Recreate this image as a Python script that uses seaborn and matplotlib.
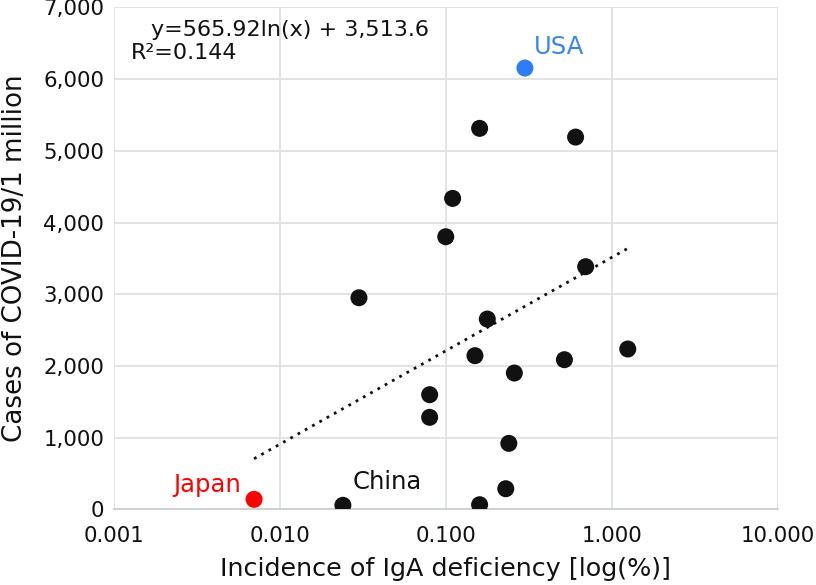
import numpy as np
import pandas as pd
import seaborn as sns
import matplotlib.pyplot as plt
from matplotlib.ticker import FixedLocator, FuncFormatter

# incidence of IgA deficiency (%) vs COVID-19 cases per 1 million
iga_incidence = [0.160, 0.606, 0.110, 0.100, 0.697, 0.030, 0.178, 0.150, 0.519,
                 1.25, 0.259, 0.080, 0.080, 0.240, 0.230, 0.160, 0.024, 0.0070, 0.30]
cases_per_million = [5314, 5192, 4337, 3802, 3384, 2951, 2654, 2143, 2087,
                     2236, 1901, 1599, 1283, 920, 287, 64, 56, 139, 6155]
country = [""] * 16 + ["China", "Japan", "USA"]

# log trendline as given on the chart
fit_a = 565.92
fit_b = 3513.6
fit_r2 = 0.144

df = pd.DataFrame({"x": iga_incidence, "y": cases_per_million, "country": country})
df["group"] = df["country"].map({"Japan": "Japan", "USA": "USA"}).fillna("other")

sns.set_style("white")
plt.rcParams["font.family"] = ["DejaVu Sans"]
plt.rcParams["text.color"] = "#111111"
plt.rcParams["axes.labelcolor"] = "#111111"

fig = plt.figure(figsize=(8.16, 5.85), dpi=100)
ax = fig.add_axes([0.1395, 0.1294, 0.8135, 0.8578])

palette = {"other": "#111111", "Japan": "#ff0000", "USA": "#2e7cf6"}
sns.scatterplot(data=df, x="x", y="y", hue="group", palette=palette,
                s=150, edgecolor="none", legend=False, ax=ax, zorder=3)

xs = np.logspace(np.log10(df["x"].min()), np.log10(df["x"].max()), 100)
ax.plot(xs, fit_a * np.log(xs) + fit_b, linestyle=(0, (1, 2)), color="#111111",
        linewidth=2, zorder=2)

ax.set_xscale("log")
ax.set_xlim(0.001, 10)
ax.set_ylim(0, 7000)
ax.xaxis.set_major_locator(FixedLocator([0.001, 0.01, 0.1, 1, 10]))
ax.xaxis.set_minor_locator(FixedLocator([]))
ax.xaxis.set_major_formatter(FuncFormatter(lambda v, p: f"{v:.3f}"))
ax.set_yticks(np.arange(0, 7001, 1000))
ax.yaxis.set_major_formatter(FuncFormatter(lambda v, p: f"{int(v):,}"))

ax.grid(True, color="#dde2e2", linewidth=1.3)
ax.set_axisbelow(True)
for side in ["top", "right", "left"]:
    ax.spines[side].set_visible(False)
ax.spines["bottom"].set_color("#c9cfcf")
ax.spines["bottom"].set_linewidth(1.3)
ax.tick_params(axis="both", length=0, labelsize=15.3, colors="#111111")
ax.tick_params(axis="x", pad=12)
ax.tick_params(axis="y", pad=7)

ax.set_xlabel("Incidence of IgA deficiency [log(%)]", fontsize=18.3, labelpad=8)
ax.set_ylabel("Cases of COVID-19/1 million", fontsize=18.8, labelpad=11)

ax.text(0.00167, 6685, f"y={fit_a}ln(x) + {fit_b:,.1f}", fontsize=16, va="center")
ax.text(0.00126, 6364, f"R²={fit_r2}", fontsize=16, va="center")

for _, r in df[df["country"] != ""].iterrows():
    if r["country"] == "USA":
        ax.text(r["x"] * 1.13, r["y"] + 293, "USA", color="#3a86f0", fontsize=17.5, va="center")
    elif r["country"] == "Japan":
        ax.text(r["x"] * 0.83, r["y"] + 200, "Japan", color="#ff0000", fontsize=17.5,
                va="center", ha="right")
    else:
        ax.text(r["x"] * 1.14, r["y"] + 329, "China", color="#111111", fontsize=17.5, va="center")

fig.savefig("out.png", dpi=100)
